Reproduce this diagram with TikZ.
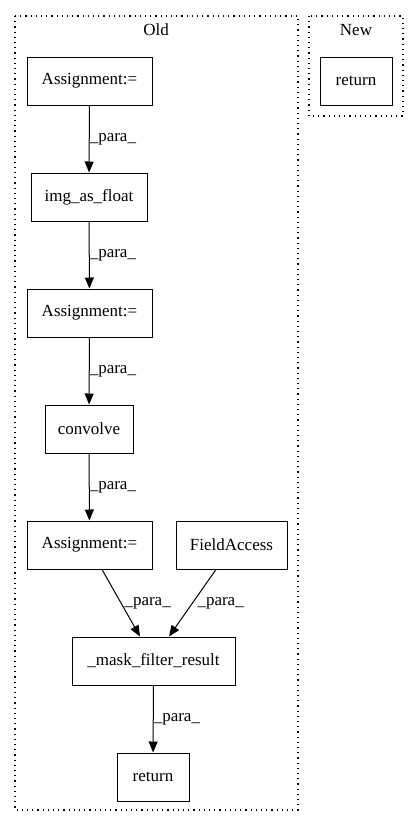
\documentclass[tikz,border=0pt]{standalone}
\usepackage{fontspec}
\setmainfont{Liberation Serif}
\usetikzlibrary{arrows.meta}

\begin{document}
\begin{tikzpicture}[x=1pt, y=-1pt, line width=1pt,
    box/.style={draw, minimum height=48pt, inner sep=0pt, font=\fontsize{17}{20}\selectfont},
    cluster/.style={draw, line width=1.2pt, dash pattern=on 1.2pt off 4pt},
    para/.style={-{Triangle[length=11pt, width=9pt]}},
    lbl/.style={anchor=west, inner sep=0pt, font=\fontsize{17}{20}\selectfont}]
    \useasboundingbox (0,0) rectangle (419,828);

    % clusters
    \draw[cluster] (15,16) rectangle (298,810);
    \draw[cluster] (309,16) rectangle (403,116);
    \node[lbl, anchor=center] (oldtitle) at (156,30) {Old};
    \node[lbl, anchor=center] (newtitle) at (356,30) {New};

    % nodes
    \node[box, minimum width=125pt] (assign1) at (89.5,81) {Assignment:=};
    \node[box, minimum width=116pt] (imgfloat) at (89,197) {img\_as\_float};
    \node[box, minimum width=125pt] (assign2) at (89.5,313) {Assignment:=};
    \node[box, minimum width=88pt] (convolve) at (89,429) {convolve};
    \node[box, minimum width=125pt] (assign3) at (89.5,545) {Assignment:=};
    \node[box, minimum width=111pt] (field) at (231.5,545) {FieldAccess};
    \node[box, minimum width=163pt] (mask) at (153.5,661) {\_mask\_filter\_result};
    \node[box, minimum width=72pt] (ret) at (153,777) {return};
    \node[box, minimum width=72pt] (newret) at (356,81) {return};

    % edges
    \draw[para] (assign1) -- (imgfloat) node[lbl, midway] {\_para\_};
    \draw[para] (imgfloat) -- (assign2) node[lbl, midway] {\_para\_};
    \draw[para] (assign2) -- (convolve) node[lbl, midway] {\_para\_};
    \draw[para] (convolve) -- (assign3) node[lbl, midway] {\_para\_};
    \draw[para] (assign3.south -| 102,0) -- (mask.north -| 140,0);
    \draw[para] (field.south -| 216,0) -- (mask.north -| 169,0);
    \node[lbl] (lblA) at (124,603) {\_para\_};
    \node[lbl] (lblB) at (197,603) {\_para\_};
    \draw[para] (mask) -- (ret) node[lbl, midway] {\_para\_};
\end{tikzpicture}
\end{document}
